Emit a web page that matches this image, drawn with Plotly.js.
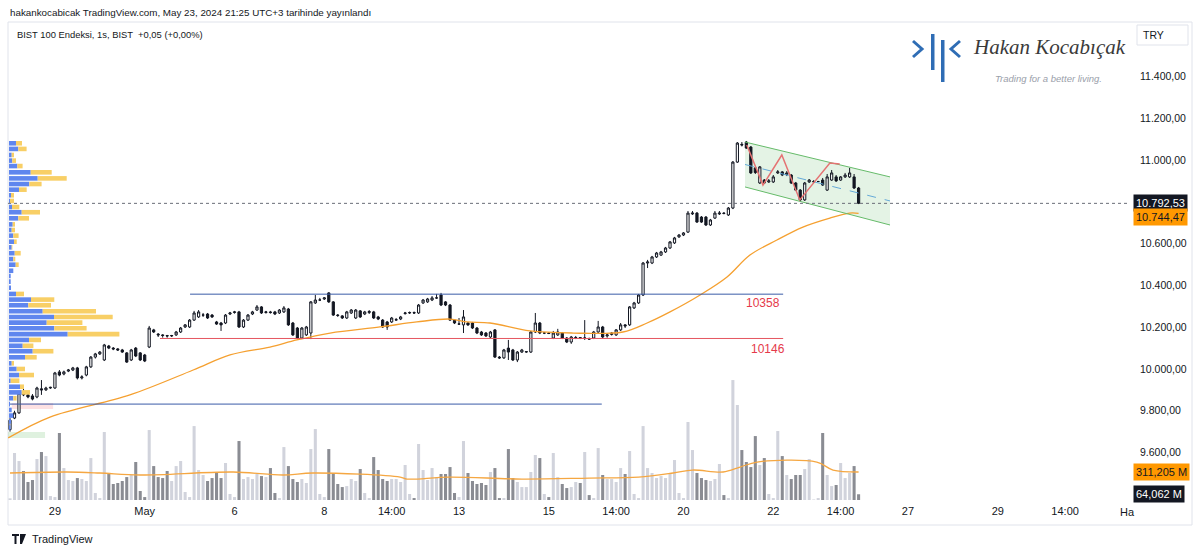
<!DOCTYPE html>
<html><head><meta charset="utf-8">
<script src="https://cdn.plot.ly/plotly-3.0.1.min.js"></script>
<style>html,body{margin:0;padding:0;background:#fff}#chart{width:1200px;height:553px}</style>
</head><body><div id="chart"></div>
<script>
// ---- OHLC (hourly bars, index 0 = 26 Apr 09:55) ----
const openP=[9710,9765,9790,9890,9876,9871,9866,9905,9900,9909,
9909,9986,9976,9990,9995,10005,9957,9971,10010,10057,
10072,10043,10110,10100,10096,10091,10077,10043,10100,10077,
10067,10105,10187,10167,10163,10160,10158,10163,10177,10201,
10201,10234,10249,10258,10263,10258,10225,10220,10220,10263,
10270,10273,10201,10234,10263,10282,10297,10270,10273,10273,
10268,10273,10287,10220,10196,10148,10163,10172,10316,10330,
10335,10364,10321,10258,10254,10244,10268,10244,10278,10263,
10270,10273,10249,10234,10225,10225,10234,10239,10265,10268,
10270,10268,10316,10321,10330,10340,10354,10321,10306,10234,
10215,10211,10220,10220,10196,10177,10172,10153,10187,10057,
10053,10100,10091,10043,10081,10081,10081,10177,10220,10172,
10172,10148,10163,10172,10148,10129,10148,10150,10148,10145,
10148,10177,10201,10158,10165,10163,10187,10211,10211,10292,
10316,10354,10507,10507,10536,10545,10560,10579,10603,10632,
10641,10655,10742,10746,10727,10727,10689,10722,10742,10746,
10737,10770,10990,11075,11086,11062,10962,10890,10904,10895,
10895,10938,10943,10930,10928,10890,10856,10809,10895,10895,
10897,10904,10856,10904,10919,10904,10919,10919,10919,10866];
const highP=[9765,9800,9895,9905,9885,9880,9915,9947,9915,9915,
9986,9995,9992,10000,10010,10010,9970,10015,10062,10077,
10086,10120,10115,10105,10100,10096,10081,10096,10105,10081,
10072,10206,10192,10172,10167,10163,10163,10182,10201,10215,
10239,10278,10282,10268,10268,10263,10230,10225,10263,10273,
10278,10278,10239,10263,10278,10306,10301,10278,10278,10278,
10287,10301,10292,10225,10201,10201,10206,10325,10354,10340,
10344,10368,10325,10263,10258,10278,10287,10287,10282,10278,
10282,10278,10254,10239,10230,10249,10244,10254,10273,10275,
10275,10311,10335,10340,10349,10359,10364,10325,10311,10239,
10244,10282,10225,10225,10201,10182,10177,10182,10191,10062,
10096,10139,10096,10086,10096,10086,10182,10268,10225,10177,
10177,10182,10192,10177,10153,10158,10158,10153,10234,10150,
10182,10230,10206,10172,10177,10191,10220,10215,10301,10321,
10359,10512,10522,10541,10560,10565,10584,10612,10632,10646,
10655,10756,10756,10751,10732,10732,10718,10756,10756,10751,
10775,10995,11086,11086,11091,11067,10967,10971,10909,10909,
10928,10952,10947,10947,10933,10895,10861,10895,10909,10904,
10900,10914,10933,10952,10928,10923,10938,10962,10933,10871];
const lowP=[9700,9760,9785,9870,9860,9850,9860,9876,9895,9905,
9905,9965,9970,9985,9990,9950,9950,9965,10005,10050,
10067,10038,10095,10090,10086,10077,10029,10038,10057,10038,
10033,10100,10172,10153,10150,10150,10153,10158,10172,10196,
10196,10230,10244,10249,10239,10244,10211,10182,10215,10258,
10265,10196,10196,10230,10258,10278,10263,10265,10265,10258,
10263,10268,10206,10158,10143,10143,10158,10143,10311,10325,
10330,10316,10254,10249,10239,10239,10263,10239,10244,10258,
10263,10239,10234,10196,10187,10220,10230,10234,10260,10263,
10263,10263,10311,10316,10325,10335,10301,10301,10230,10215,
10211,10172,10206,10191,10167,10158,10153,10148,10053,10048,
10048,10043,10038,10033,10077,10077,10077,10172,10167,10167,
10167,10143,10158,10143,10124,10120,10143,10143,10139,10139,
10143,10172,10148,10150,10160,10158,10182,10196,10206,10287,
10311,10349,10483,10502,10531,10541,10555,10574,10598,10627,
10636,10651,10737,10699,10699,10684,10684,10718,10737,10740,
10732,10765,10986,11065,11053,10933,10933,10885,10885,10890,
10890,10933,10923,10923,10885,10852,10804,10804,10890,10890,
10895,10876,10852,10900,10895,10900,10914,10914,10861,10789];
const closeP=[9755,9790,9885,9876,9866,9856,9909,9900,9909,9912,
9981,9971,9986,9995,10005,9957,9962,10010,10057,10072,
10081,10115,10100,10096,10091,10081,10033,10091,10062,10043,
10038,10196,10177,10163,10160,10158,10160,10177,10196,10211,
10234,10268,10273,10258,10244,10249,10215,10211,10258,10268,
10273,10201,10234,10258,10273,10297,10268,10273,10270,10263,
10282,10292,10211,10163,10148,10196,10201,10321,10330,10330,
10340,10321,10258,10256,10244,10273,10282,10282,10249,10273,
10275,10244,10239,10201,10201,10244,10236,10249,10268,10270,
10268,10306,10330,10335,10340,10340,10306,10306,10234,10220,
10215,10249,10211,10196,10172,10163,10158,10177,10057,10053,
10091,10081,10043,10081,10091,10083,10177,10220,10172,10172,
10170,10172,10177,10148,10129,10153,10150,10148,10148,10143,
10177,10201,10153,10163,10172,10187,10211,10206,10297,10316,
10354,10507,10512,10536,10555,10560,10579,10608,10627,10641,
10651,10746,10746,10703,10703,10689,10713,10746,10746,10744,
10770,10990,11081,11072,11057,10938,10940,10967,10890,10900,
10919,10943,10928,10938,10890,10856,10809,10890,10904,10897,
10897,10880,10919,10938,10900,10919,10928,10938,10866,10792.53];
// ---- volume (millions) ----
const volumeM=[19,522,433,322,200,222,455,533,488,44,
33,744,355,222,211,244,233,211,466,78,
22,755,289,178,189,211,255,278,422,100,
33,777,377,255,244,322,211,377,433,89,
33,821,333,278,211,244,300,244,411,67,
33,655,233,255,233,289,266,255,355,78,
22,588,377,233,200,233,189,566,788,67,
33,566,300,178,144,155,233,211,344,78,
22,477,333,233,211,233,233,200,389,67,
22,622,333,222,355,255,289,289,366,78,
33,655,300,211,178,189,167,311,355,22,
22,566,244,200,144,144,311,500,466,67,
33,522,255,178,133,144,200,189,533,55,
22,577,278,233,233,200,355,289,544,67,
22,821,355,300,244,266,244,300,444,78,
22,866,555,300,244,222,211,233,400,55,
22,1332,1055,555,422,366,710,389,466,67,
22,766,488,278,233,278,278,344,455,6,
22,744,278,155,167,411,244,300,377,64.062];
// ---- moving averages (read points: bar index, value) ----
const maIdx=[-0.4,8.9,26.7,40.8,49,57.9,63.9,71.3,82.4,90.6,98,101.8,106.9,115.8,125.4,136.5,141.9,147,153.7,159.7,164.8,170.8,176.6,182.6,187,189];
const maVal=[9670,9770,9876,9995,10067,10105,10139,10172,10201,10225,10239,10225,10220,10182,10172,10177,10220,10273,10354,10440,10545,10617,10679,10722,10746,10744.47];
const volMaIdx=[0,12.7,20,29,49.7,60.8,67.5,86.9,88.4,97.8,114,129,140,147.7,152,158.8,162.6,166.4,179.7,183.3,189];
const volMaVal=[300,311,300,278,311,278,300,255,233,255,233,244,255,300,333,311,366,422,422,333,311.205];
// ---- volume profile (price row, up volume, down volume) ----
const vpPrice=[11080,11053,11024,10997,10971,10941,10912,10885,10858,10831,10804,10775,10750,10721,10692,10665,10638,10609,10582,10554,10526,10499,10470,10445,10418,10389,10359,10332,10305,10276,10249,10222,10195,10167,10139,10111,10085,10056,10027,10000,9971,9944,9915,9888,9860,9832,9804,9777,9749,9720];
const vpUp=[7,9.3,2.7,3.3,8.3,21.7,28.7,20.3,10,2,1,3,12.7,9.3,3.7,2.7,4.3,5,2.7,5.7,4.3,6.7,4.3,1.7,1.7,2,7,22,19.3,33.7,45,37.7,45.3,58.7,20,13.7,23.7,16,2.7,7.7,10,1.7,11,12.7,4.3,1,2.7,4.3,2,1.5];
const vpDown=[6,8.3,2.3,3.7,5.3,21,29,12.3,7.7,3,4,7.3,18.3,10.7,2.3,3.3,5.3,2.7,0.7,6,2,3,0,0,0,0,8,23.3,22.7,53.3,58.7,35.7,32.3,51.7,12,10.7,20.7,11.7,2.3,8.3,15,8.7,4,8.3,3.3,0,0,0,0,0];
// ---- levels & drawings ----
const levelHigh=10358, levelLow=10146, levelBase=9832, lastPrice=10792.53, lastMA=10744.47;
const lastVolMA=311.205, lastVol=64.062;
const channelTop=[[163.7,11086],[196,10919]];
const channelBottom=[[163.7,10871],[196,10689]];
const zigzag=[[164.1,11072],[167.7,10880],[171.9,11024],[175.9,10809],[182.6,10986],[184.8,10981]];
// ---- axis labels ----
const xTickVals=[10,30,50,70,85,100,120,135,150,170,185,200,220,235];
const xTickText=['29','May','6','8','14:00','13','15','14:00','20','22','14:00','27','29','14:00'];
const yTickVals=[9600,9800,10000,10200,10400,10600,11000,11200,11400];

const N=closeP.length;
const idx=Array.from({length:N},(_,i)=>i);
const volColors=idx.map(i=>closeP[i]>=openP[i]?'#d1d3dc':'#8a8c93');

const ml=8,mr=70,mt=22,mb=50,W=1200-ml-mr,H=553-mt-mb;
const PX=x=>(x-ml)/W, PY=y=>(553-mb-y)/H;
const FONT='Liberation Sans, Arial, sans-serif';

const traces=[
 {type:'bar',orientation:'h',x:vpUp,y:vpPrice,width:22,xaxis:'x2',yaxis:'y',marker:{color:'#5f86ee',line:{width:0}},hoverinfo:'skip'},
 {type:'bar',orientation:'h',x:vpDown,base:vpUp,y:vpPrice,width:22,xaxis:'x2',yaxis:'y',marker:{color:'#f8cf66',line:{width:0}},hoverinfo:'skip'},
 {type:'bar',x:idx,y:volumeM,width:0.68,xaxis:'x',yaxis:'y2',marker:{color:volColors,line:{width:0}},hoverinfo:'skip'},
 {type:'scatter',mode:'lines',x:volMaIdx,y:volMaVal,xaxis:'x',yaxis:'y2',line:{color:'#f5a742',width:1.3,shape:'spline'},hoverinfo:'skip'},
 {type:'scatter',mode:'lines',x:maIdx,y:maVal,line:{color:'#f5a030',width:1.3,shape:'spline'},hoverinfo:'skip'},
 {type:'candlestick',x:idx,open:openP,high:highP,low:lowP,close:closeP,
  increasing:{line:{color:'#131722',width:1},fillcolor:'#ffffff'},
  decreasing:{line:{color:'#131722',width:1},fillcolor:'#131722'},whiskerwidth:0,hoverinfo:'skip'}
];

const shapes=[
 {type:'rect',xref:'paper',yref:'paper',x0:PX(8),x1:PX(1192),y0:PY(22),y1:PY(525),line:{color:'#e0e3eb',width:1},layer:'below'},
 {type:'rect',xref:'x',yref:'y',x0:0.4,x1:9.6,y0:9809,y1:9837,fillcolor:'rgba(242,54,69,0.15)',line:{width:0},layer:'below'},
 {type:'rect',xref:'x',yref:'y',x0:-0.45,x1:7.8,y0:9670,y1:9699,fillcolor:'rgba(76,175,80,0.18)',line:{width:0},layer:'below'},
 {type:'path',xref:'x',yref:'y',path:`M ${channelTop[0][0]},${channelTop[0][1]} L ${channelTop[1][0]},${channelTop[1][1]} L ${channelBottom[1][0]},${channelBottom[1][1]} L ${channelBottom[0][0]},${channelBottom[0][1]} Z`,fillcolor:'rgba(76,175,80,0.15)',line:{width:0},layer:'below'},
 {type:'line',xref:'x',yref:'y',x0:channelTop[0][0],y0:channelTop[0][1],x1:channelTop[1][0],y1:channelTop[1][1],line:{color:'#66bb6a',width:1}},
 {type:'line',xref:'x',yref:'y',x0:channelBottom[0][0],y0:channelBottom[0][1],x1:channelBottom[1][0],y1:channelBottom[1][1],line:{color:'#66bb6a',width:1}},
 {type:'line',xref:'x',yref:'y',x0:channelTop[0][0],y0:(channelTop[0][1]+channelBottom[0][1])/2,x1:channelTop[1][0],y1:(channelTop[1][1]+channelBottom[1][1])/2,line:{color:'#64a9d8',width:1,dash:'dash'}},
 {type:'path',xref:'x',yref:'y',path:'M '+zigzag.map(p=>p[0]+','+p[1]).join(' L '),line:{color:'#e57373',width:1.5}},
 {type:'line',xref:'x',yref:'y',x0:40.1,x1:172.2,y0:levelHigh,y1:levelHigh,line:{color:'#3a5ba8',width:1}},
 {type:'line',xref:'x',yref:'y',x0:33.4,x1:172.2,y0:levelLow,y1:levelLow,line:{color:'#e5565f',width:1}},
 {type:'line',xref:'x',yref:'y',x0:0,x1:131.8,y0:levelBase,y1:levelBase,line:{color:'#3a5ba8',width:1}},
 {type:'line',xref:'paper',yref:'y',x0:0,x1:1,y0:lastPrice,y1:lastPrice,line:{color:'#6a6d78',width:1,dash:'dot'}},
 // TRY box
 {type:'rect',xref:'paper',yref:'paper',x0:PX(1137),x1:PX(1188),y0:PY(25),y1:PY(45),line:{color:'#e0e3eb',width:1},fillcolor:'#ffffff'},
 // logo mark
 {type:'path',xref:'paper',yref:'paper',path:`M ${PX(913)},${PY(41)} L ${PX(922)},${PY(49)} L ${PX(913)},${PY(57)}`,line:{color:'#2f6db5',width:3}},
 {type:'rect',xref:'paper',yref:'paper',x0:PX(931),x1:PX(934.5),y0:PY(34),y1:PY(70),fillcolor:'#2f6db5',line:{width:0}},
 {type:'rect',xref:'paper',yref:'paper',x0:PX(941),x1:PX(944.5),y0:PY(40),y1:PY(82),fillcolor:'#2f6db5',line:{width:0}},
 {type:'path',xref:'paper',yref:'paper',path:`M ${PX(960)},${PY(41)} L ${PX(951)},${PY(49)} L ${PX(960)},${PY(57)}`,line:{color:'#2f6db5',width:3}},
 // TradingView logo
 {type:'rect',xref:'paper',yref:'paper',x0:PX(12),x1:PX(19),y0:PY(534),y1:PY(536),fillcolor:'#131722',line:{width:0}},
 {type:'rect',xref:'paper',yref:'paper',x0:PX(14.5),x1:PX(16.5),y0:PY(534),y1:PY(544),fillcolor:'#131722',line:{width:0}},
 {type:'path',xref:'paper',yref:'paper',path:`M ${PX(20)},${PY(534)} L ${PX(26)},${PY(534)} L ${PX(22)},${PY(544)} L ${PX(20)},${PY(544)} Z`,fillcolor:'#131722',line:{width:0}}
];

const ann=(o)=>Object.assign({showarrow:false,font:{family:FONT,size:11,color:'#131722'}},o);
const annotations=[
 ann({xref:'paper',yref:'paper',x:PX(8),y:PY(12),xanchor:'left',yanchor:'middle',text:'hakankocabicak TradingView.com, May 23, 2024 21:25 UTC+3 tarihinde yayınlandı',font:{family:FONT,size:9.8,color:'#131722'}}),
 ann({xref:'paper',yref:'paper',x:PX(15),y:PY(35),xanchor:'left',yanchor:'middle',text:'BIST 100 Endeksi, 1s, BIST  +0,05 (+0,00%)',font:{family:FONT,size:9.4,color:'#131722'}}),
 ann({xref:'paper',yref:'paper',x:PX(1153),y:PY(35),xanchor:'center',yanchor:'middle',text:'TRY',font:{family:FONT,size:10.5,color:'#131722'}}),
 ann({xref:'paper',yref:'paper',x:PX(1049),y:PY(47),xanchor:'center',yanchor:'middle',text:'<i>Hakan Kocabıçak</i>',font:{family:'Liberation Serif, serif',size:21,color:'#3a3a3a'}}),
 ann({xref:'paper',yref:'paper',x:PX(1048),y:PY(78),xanchor:'center',yanchor:'middle',text:'<i>Trading for a better living.</i>',font:{family:FONT,size:9.5,color:'#9aa0aa'}}),
 ann({xref:'paper',yref:'paper',x:PX(1127),y:PY(512),xanchor:'center',yanchor:'middle',text:'Ha'}),
 ann({xref:'paper',yref:'paper',x:PX(30),y:PY(539),xanchor:'left',yanchor:'middle',text:'TradingView',font:{family:FONT,size:11,color:'#131722'}}),
 ann({xref:'x',yref:'y',x:167.7,y:10316,text:'10358',font:{family:FONT,size:12,color:'#e5394a'}}),
 ann({xref:'x',yref:'y',x:168.8,y:10096,text:'10146',font:{family:FONT,size:12,color:'#e5394a'}}),
 ann({xref:'paper',yref:'y',x:1,xanchor:'left',xshift:3,y:lastPrice,text:'10.792,53',bgcolor:'#131722',borderpad:2,font:{family:FONT,size:11,color:'#ffffff'}}),
 ann({xref:'paper',yref:'y',x:1,xanchor:'left',xshift:3,y:lastMA,yshift:-4,text:'10.744,47',bgcolor:'#ff9800',borderpad:2,font:{family:FONT,size:11,color:'#131722'}}),
 ann({xref:'paper',yref:'y2',x:1,xanchor:'left',xshift:3,y:lastVolMA,text:'311,205 M',bgcolor:'#ff9800',borderpad:2,font:{family:FONT,size:11,color:'#131722'}}),
 ann({xref:'paper',yref:'y2',x:1,xanchor:'left',xshift:3,y:lastVol,text:'64,062 M',bgcolor:'#131722',borderpad:2,font:{family:FONT,size:11,color:'#ffffff'}})
];

const layout={
 width:1200,height:553,margin:{l:ml,r:mr,t:mt,b:mb},
 paper_bgcolor:'#ffffff',plot_bgcolor:'#ffffff',showlegend:false,barmode:'overlay',
 separators:',.',hovermode:false,
 xaxis:{range:[-0.45,249.45],tickvals:xTickVals,ticktext:xTickText,showgrid:false,zeroline:false,
   showline:false,ticks:'',tickfont:{family:FONT,size:11,color:'#131722'},rangeslider:{visible:false},fixedrange:true},
 xaxis2:{overlaying:'x',range:[-1,1121],visible:false,fixedrange:true},
 yaxis:{range:[9358.7,11660.3],side:'right',tickvals:yTickVals,tickformat:',.2f',showgrid:false,zeroline:false,
   ticks:'',ticklabelstandoff:9,tickfont:{family:FONT,size:10.5,color:'#131722'},fixedrange:true},
 yaxis2:{overlaying:'y',range:[-33,5307],visible:false,fixedrange:true},
 shapes:shapes,annotations:annotations
};
Plotly.newPlot('chart',traces,layout,{staticPlot:true,displayModeBar:false});
</script></body></html>
